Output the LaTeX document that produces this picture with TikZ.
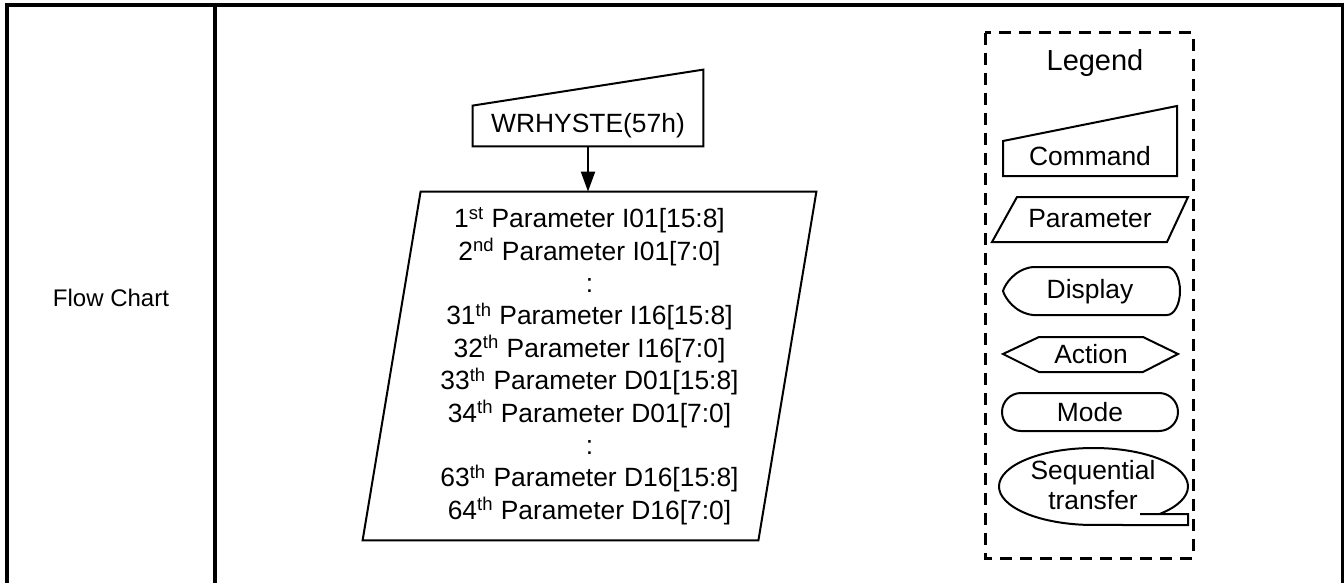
\documentclass[tikz,border=0pt]{standalone}
\usepackage{fontspec}
\setmainfont{Liberation Sans}
\usetikzlibrary{arrows.meta,calc}
\newcommand{\chartfont}{\fontsize{13.2pt}{16.2pt}\selectfont}

\begin{document}
\begin{tikzpicture}[x=0.5pt, y=0.5pt,
    shape line/.style={line width=1pt, line join=miter},
    label text/.style={font=\chartfont, inner sep=0pt, align=center}]
    \useasboundingbox (0,0) rectangle (1344,-583);

    % Table frame
    \draw[line width=2pt] (7,-583) -- (7,-5.5) -- (1343,-5.5) -- (1343,-583);
    \draw[line width=2pt] (215,-5.5) -- (215,-583);
    \node[font=\fontsize{12pt}{14pt}\selectfont] (title) at (111,-298) {Flow Chart};

    % Command and its parameters
    \node[label text, minimum width=115pt, minimum height=20pt] (cmd) at (588,-126) {WRHYSTE(57h)};
    \draw[shape line] (cmd.south west) -- (cmd.south east) -- ($(cmd.north east)+(0,36)$) -- (cmd.north west) -- cycle;
    \node[label text, minimum width=197.5pt, minimum height=174pt] (prm) at (589.5,-366) {%
        1\textsuperscript{st} Parameter I01[15:8]\\
        2\textsuperscript{nd} Parameter I01[7:0]\\
        :\\
        31\textsuperscript{th} Parameter I16[15:8]\\
        32\textsuperscript{th} Parameter I16[7:0]\\
        33\textsuperscript{th} Parameter D01[15:8]\\
        34\textsuperscript{th} Parameter D01[7:0]\\
        :\\
        63\textsuperscript{th} Parameter D16[15:8]\\
        64\textsuperscript{th} Parameter D16[7:0]};
    \draw[shape line] ($(prm.north west)+(29,0)$) -- ($(prm.north east)+(29,0)$) -- ($(prm.south east)-(29,0)$) -- ($(prm.south west)-(29,0)$) -- cycle;
    \draw[line width=1pt, -{Triangle[length=10pt,width=7pt]}] (cmd.south) -- (cmd.south |- prm.north);

    % Legend
    \draw[line width=1.5pt, dash pattern=on 6pt off 4pt] (985,-33) rectangle (1193,-558);
    \node[label text, font=\fontsize{14.5pt}{17pt}\selectfont] (lgtitle) at (1095,-63) {Legend};
    \draw[shape line] (1003,-176) -- (1177,-176) -- (1177,-106) -- (1003,-141) -- cycle;
    \node[label text] (lgcmd) at (1090,-156) {Command};
    \draw[shape line] (1017,-197) -- (1188,-197) -- (1167,-242) -- (992,-242) -- cycle;
    \node[label text] (lgprm) at (1090,-219) {Parameter};
    \draw[shape line] (1033,-267) -- (1167,-267) arc[start angle=90, end angle=-90, x radius=6.5pt, y radius=12pt]
        -- (1033,-315) .. controls (1015,-313) and (1005,-298) .. (1003,-291)
        .. controls (1005,-284) and (1015,-269) .. (1033,-267) -- cycle;
    \node[label text] (lgdsp) at (1090,-292) {Display};
    \draw[shape line] (1003,-354) -- (1039,-337) -- (1143,-337) -- (1178,-354) -- (1143,-372) -- (1039,-372) -- cycle;
    \node[label text] (lgact) at (1091,-354) {Action};
    \draw[shape line, rounded corners=9.5pt] (1002,-393) rectangle (1178,-431);
    \node[label text] (lgmod) at (1090,-412) {Mode};
    \draw[shape line] (1159.6,-514) arc[start angle=-45.6, end angle=270, x radius=47.25pt, y radius=19.25pt]
        -- (1188,-525) -- (1188,-514) -- (1140,-514);
    \node[label text, font=\fontsize{13.2pt}{15pt}\selectfont] (lgseq) at (1093,-485) {Sequential\\ transfer};
\end{tikzpicture}
\end{document}
